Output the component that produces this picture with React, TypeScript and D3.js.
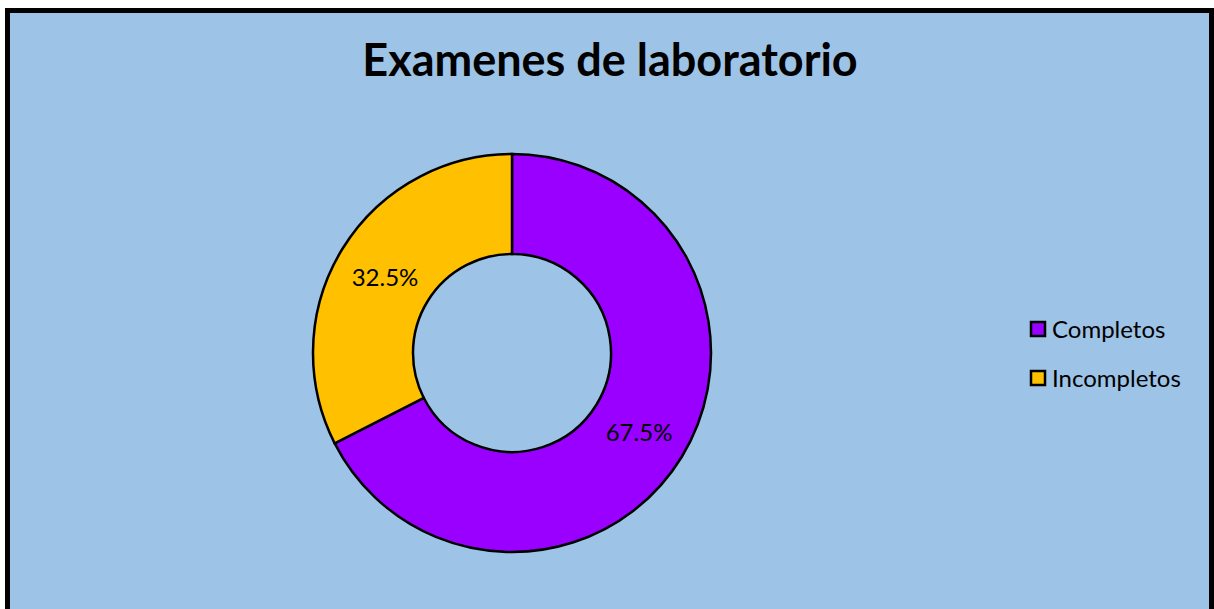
import React from "react";
import * as d3 from "d3";

const categories = ["Completos", "Incompletos"];
const values = [67.5, 32.5];
const colors = ["#9900FF", "#FFC000"];
const title = "Examenes de laboratorio";

export default function App() {
  const W = 1214, H = 609;
  const cx = 512, cy = 353, outerR = 199, innerR = 99;
  const pie = d3.pie<number>().sort(null).value((d) => d);
  const arcs = pie(values);
  const arc = d3.arc<d3.PieArcDatum<number>>().innerRadius(innerR).outerRadius(outerR);
  const font = "Lato, sans-serif";
  return (
    <svg width={W} height={H} style={{ position: "absolute", left: 0, top: 0 }}>
      <rect x={7.5} y={10.5} width={1204} height={640} fill="#9DC3E6" stroke="#000" strokeWidth={5} />
      <text x={610} y={76} textAnchor="middle" fontFamily={font} fontWeight="bold" fontSize={45} fill="#000">
        {title}
      </text>
      <g transform={`translate(${cx},${cy})`}>
        {arcs.map((a, i) => (
          <path key={i} d={arc(a) as string} fill={colors[i]} stroke="#000" strokeWidth={2.5} />
        ))}
        {arcs.map((a, i) => {
          const [x, y] = arc.centroid(a);
          return (
            <text key={"l" + i} x={x} y={y + 2} dy="0.35em" textAnchor="middle" fontFamily={font} fontSize={24} fill="#000">
              {values[i].toFixed(1)}%
            </text>
          );
        })}
      </g>
      {categories.map((c, i) => (
        <g key={c} transform={`translate(1031,${322 + i * 49})`}>
          <rect x={0} y={0} width={14} height={14} fill={colors[i]} stroke="#000" strokeWidth={2.5} />
          <text x={21} y={15.5} fontFamily={font} fontSize={24} fill="#000">
            {c}
          </text>
        </g>
      ))}
    </svg>
  );
}
